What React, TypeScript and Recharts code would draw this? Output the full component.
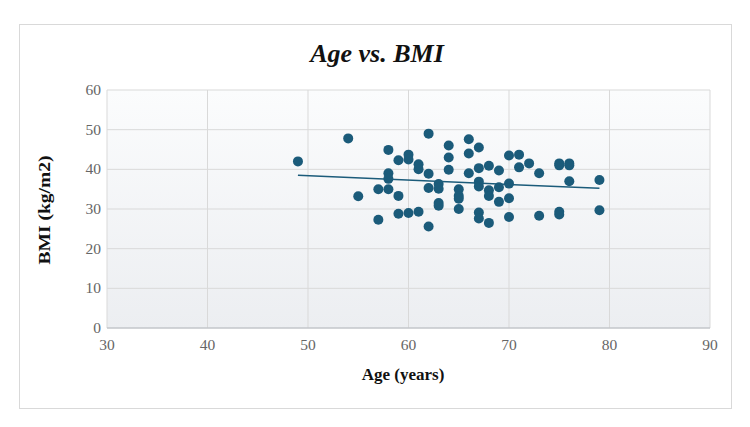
import { ScatterChart, Scatter, XAxis, YAxis, CartesianGrid } from 'recharts';

// age (years) -> BMI (kg/m2)
const AGES = [
  49, 54, 55, 57, 57, 58, 58, 58, 58, 59, 59, 59, 60, 60, 60,
  61, 61, 61, 62, 62, 62, 62, 63, 63, 63, 63, 64, 64, 64,
  65, 65, 65, 65, 66, 66, 66, 67, 67, 67, 67, 67, 67,
  68, 68, 68, 68, 69, 69, 69, 70, 70, 70, 70, 71, 71, 72,
  73, 73, 75, 75, 75, 75, 76, 76, 76, 79, 79,
];
const BMIS = [
  42.0, 47.8, 33.2, 27.3, 35.0, 44.9, 39.0, 37.6, 35.0, 42.3, 33.3, 28.8, 43.7, 42.5, 29.0,
  41.3, 40.0, 29.3, 49.0, 38.9, 35.3, 25.6, 36.3, 35.1, 31.5, 30.8, 46.0, 43.0, 39.9,
  35.0, 33.3, 32.6, 30.0, 47.6, 44.0, 39.0, 45.5, 40.3, 36.9, 35.7, 29.1, 27.6,
  40.9, 34.7, 33.3, 26.5, 39.7, 35.5, 31.8, 43.5, 36.4, 32.7, 28.0, 43.7, 40.5, 41.5,
  39.0, 28.3, 41.5, 41.0, 29.3, 28.6, 41.5, 41.0, 37.0, 37.3, 29.7,
];
// trendline end points
const TREND_AGES = [49, 79];
const TREND_BMIS = [38.5, 35.2];

const X_TICKS = [30, 40, 50, 60, 70, 80, 90];
const Y_TICKS = [0, 10, 20, 30, 40, 50, 60];

const points = AGES.map((age, i) => ({ age, bmi: BMIS[i] }));
const trend = TREND_AGES.map((age, i) => ({ age, bmi: TREND_BMIS[i] }));

const FONT = 'Liberation Serif, serif';
const BLUE = '#1b5b7a';

const renderXTick = ({ x, y, payload }: any) => (
  <text key={`x-${payload.value}`} x={x} y={y + 12} textAnchor="middle" fill="#666" fontFamily={FONT} fontSize={15.5}>
    {payload.value}
  </text>
);

const renderYTick = ({ x, y, payload }: any) => (
  <text key={`y-${payload.value}`} x={x + 4} y={y + 5} textAnchor="end" fill="#666" fontFamily={FONT} fontSize={15.5}>
    {payload.value}
  </text>
);

export default function App() {
  return (
    <div style={{ position: 'absolute', left: 0, top: 0, width: 750, height: 427, background: '#fff', fontFamily: FONT }}>
      <div
        style={{
          position: 'absolute',
          left: 19,
          top: 24,
          width: 713,
          height: 385,
          border: '1px solid #d9d9d9',
          boxSizing: 'border-box',
        }}
      />
      <div
        style={{
          position: 'absolute',
          left: 2,
          width: 750,
          top: 39,
          textAlign: 'center',
          fontSize: 26,
          fontWeight: 'bold',
          fontStyle: 'italic',
          color: '#111',
        }}
      >
        Age vs. BMI
      </div>
      <div
        style={{
          position: 'absolute',
          left: 403,
          top: 375,
          transform: 'translate(-50%, -50%)',
          fontSize: 17,
          fontWeight: 'bold',
          whiteSpace: 'nowrap',
          color: '#111',
        }}
      >
        Age (years)
      </div>
      <div
        style={{
          position: 'absolute',
          left: 45,
          top: 210,
          transform: 'translate(-50%, -50%) rotate(-90deg) scaleX(1.15)',
          fontSize: 17,
          fontWeight: 'bold',
          whiteSpace: 'nowrap',
          color: '#111',
        }}
      >
        BMI (kg/m2)
      </div>
      <div style={{ position: 'absolute', left: 0, top: 0 }}>
        <ScatterChart width={750} height={427} margin={{ top: 90, right: 40, bottom: 69, left: 47 }}>
          <defs>
            <linearGradient id="plotBg" x1="0" y1="0" x2="0" y2="1">
              <stop offset="0%" stopColor="#fbfcfd" />
              <stop offset="100%" stopColor="#eceef1" />
            </linearGradient>
          </defs>
          <CartesianGrid stroke="#d9d9d9" fill="url(#plotBg)" horizontalValues={Y_TICKS} verticalValues={X_TICKS} />
          <XAxis
            type="number"
            dataKey="age"
            domain={[30, 90]}
            ticks={X_TICKS}
            interval={0}
            tickLine={false}
            axisLine={{ stroke: '#b8bcc2' }}
            tick={renderXTick}
            tickMargin={4}
            height={30}
          />
          <YAxis
            type="number"
            dataKey="bmi"
            domain={[0, 60]}
            ticks={Y_TICKS}
            interval={0}
            tickLine={false}
            axisLine={false}
            tick={renderYTick}
            tickMargin={4}
            width={60}
          />
          <Scatter
            data={points}
            isAnimationActive={false}
            shape={(p: any) => <circle cx={p.cx} cy={p.cy} r={5} fill={BLUE} />}
          />
          <Scatter
            data={trend}
            isAnimationActive={false}
            line={{ stroke: BLUE, strokeWidth: 1.5 }}
            shape={() => <g />}
          />
        </ScatterChart>
      </div>
    </div>
  );
}
